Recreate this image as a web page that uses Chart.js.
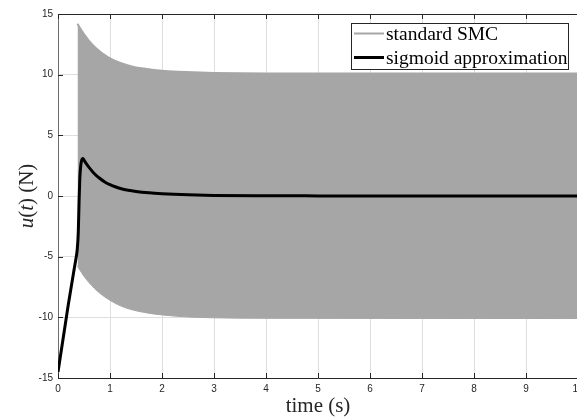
<!DOCTYPE html>
<html>
<head>
<meta charset="utf-8">
<script src="https://cdn.jsdelivr.net/npm/chart.js@4/dist/chart.umd.min.js"></script>
<style>
  html, body { margin: 0; padding: 0; background: #fff; overflow: hidden; }
  #wrap { width: 577px; height: 420px; overflow: hidden; position: relative; }
  canvas { display: block; }
</style>
</head>
<body>
<div id="wrap"><canvas id="c" width="590" height="420"></canvas></div>
<script>
// ---- data ----
const seriesLabels = ['sigmoid approximation', 'standard SMC'];

// sigmoid approximation (black line)
const tSig = [0, 0.05, 0.1, 0.15, 0.2, 0.25, 0.3, 0.34, 0.37, 0.39, 0.405, 0.42, 0.44, 0.46, 0.48,
              0.5, 0.55, 0.6, 0.7, 0.8, 0.9, 1.0, 1.1, 1.2, 1.35, 1.5, 1.75, 2.0, 2.5, 3.0, 4.0, 5.0, 10];
const uSig = [-14.5, -13.1, -11.7, -10.3, -8.9, -7.6, -6.3, -5.3, -4.4, -3.0, -0.5, 1.5, 2.6, 3.0, 3.1,
              2.96, 2.63, 2.34, 1.84, 1.46, 1.16, 0.93, 0.76, 0.62, 0.47, 0.37, 0.26, 0.19, 0.1, 0.05, 0.02, 0.01, 0];

// standard SMC (chattering band: upper and lower envelope)
const tSmc = [0.375, 0.45, 0.5, 0.6, 0.7, 0.8, 0.9, 1.0, 1.2, 1.4, 1.6, 1.8, 2.0, 2.3, 2.6, 3.0, 3.5, 4.0, 10];
const uSmcUpper = [14.2, 13.65, 13.34, 12.77, 12.31, 11.93, 11.61, 11.35, 10.96, 10.7, 10.52, 10.41, 10.33, 10.25, 10.19, 10.14, 10.11, 10.1, 10.1];
const uSmcLower = [-5.8, -6.3, -6.62, -7.16, -7.61, -8.0, -8.32, -8.6, -9.05, -9.35, -9.55, -9.7, -9.8, -9.92, -9.99, -10.04, -10.07, -10.08, -10.1];

// axis ticks
const xTicks = [0, 1, 2, 3, 4, 5, 6, 7, 8, 9, 10];
const yTicks = [-15, -10, -5, 0, 5, 10, 15];

const toPts = (xs, ys) => xs.map((x, i) => ({ x: x, y: ys[i] }));

const AXIS = '#262626';
const GRAY = '#a6a6a6';
const SERIF = '"Liberation Serif", "Times New Roman", serif';
const SANS = '"Liberation Sans", Arial, Helvetica, sans-serif';

const decorPlugin = {
  id: 'decor',
  afterDraw(chart) {
    const ctx = chart.ctx;
    const ca = chart.chartArea;
    const xs = chart.scales.x, ys = chart.scales.y;
    ctx.save();
    // top border
    ctx.strokeStyle = AXIS;
    ctx.lineWidth = 1;
    ctx.beginPath();
    ctx.moveTo(ca.left, ca.top + 0.5);
    ctx.lineTo(ca.right, ca.top + 0.5);
    ctx.moveTo(ca.right - 0.5, ca.top);
    ctx.lineTo(ca.right - 0.5, ca.bottom);
    ctx.stroke();
    // inward ticks
    const TL = 5;
    ctx.beginPath();
    xTicks.forEach(v => {
      const px = Math.round(xs.getPixelForValue(v)) + 0.5;
      ctx.moveTo(px, ca.bottom); ctx.lineTo(px, ca.bottom - TL);
      ctx.moveTo(px, ca.top); ctx.lineTo(px, ca.top + TL);
    });
    yTicks.forEach(v => {
      const py = Math.round(ys.getPixelForValue(v)) + 0.5;
      ctx.moveTo(ca.left, py); ctx.lineTo(ca.left + TL, py);
    });
    ctx.stroke();

    // y-axis title with italic symbols
    const parts = [
      { t: 'u', it: true }, { t: '(', it: false }, { t: 't', it: true }, { t: ') (N)', it: false }
    ];
    const fs = 21;
    let total = 0;
    parts.forEach(p => {
      ctx.font = (p.it ? 'italic ' : '') + fs + 'px ' + SERIF;
      p.w = ctx.measureText(p.t).width;
      total += p.w;
    });
    ctx.translate(27, (ca.top + ca.bottom) / 2);
    ctx.rotate(-Math.PI / 2);
    ctx.fillStyle = AXIS;
    ctx.textBaseline = 'middle';
    ctx.textAlign = 'left';
    let cx = -total / 2;
    parts.forEach(p => {
      ctx.font = (p.it ? 'italic ' : '') + fs + 'px ' + SERIF;
      ctx.fillText(p.t, cx, 0);
      cx += p.w;
    });
    ctx.setTransform(1, 0, 0, 1, 0, 0);

    // legend box
    const box = { x: 351.5, y: 23.5, w: 217, h: 46 };
    ctx.fillStyle = '#ffffff';
    ctx.fillRect(box.x, box.y, box.w, box.h);
    ctx.strokeStyle = AXIS;
    ctx.lineWidth = 1;
    ctx.strokeRect(box.x, box.y, box.w, box.h);
    const entries = [
      { ds: chart.data.datasets[1], y: 33.5 },
      { ds: chart.data.datasets[0], y: 57.5 }
    ];
    ctx.font = '19.5px ' + SERIF;
    ctx.textBaseline = 'middle';
    entries.forEach(e => {
      ctx.strokeStyle = e.ds.borderColor;
      ctx.lineWidth = e.ds.borderWidth;
      ctx.beginPath();
      ctx.moveTo(354, e.y);
      ctx.lineTo(384, e.y);
      ctx.stroke();
      ctx.fillStyle = '#000';
      ctx.fillText(e.ds.label, 386, e.y + 1);
    });
    ctx.restore();
  }
};

new Chart(document.getElementById('c'), {
  type: 'line',
  data: {
    datasets: [
      {
        label: seriesLabels[0],
        data: toPts(tSig, uSig),
        borderColor: '#000000',
        borderWidth: 3,
        pointRadius: 0,
        cubicInterpolationMode: 'monotone',
        fill: false,
        order: 0
      },
      {
        label: seriesLabels[1],
        data: toPts(tSmc, uSmcUpper),
        borderColor: GRAY,
        backgroundColor: GRAY,
        borderWidth: 2,
        pointRadius: 0,
        cubicInterpolationMode: 'monotone',
        fill: '+1',
        order: 1
      },
      {
        label: '',
        data: toPts(tSmc, uSmcLower),
        borderColor: GRAY,
        borderWidth: 1,
        pointRadius: 0,
        cubicInterpolationMode: 'monotone',
        fill: false,
        order: 2
      }
    ]
  },
  options: {
    responsive: false,
    animation: false,
    layout: { padding: { left: 0, top: 14, right: 12, bottom: 0 } },
    plugins: { legend: { display: false }, tooltip: { enabled: false } },
    scales: {
      x: {
        type: 'linear',
        min: 0, max: 10,
        afterBuildTicks: s => { s.ticks = xTicks.map(v => ({ value: v })); },
        afterFit: s => { s.height = 42; },
        grid: { color: '#dedede', drawTicks: false },
        border: { color: AXIS, width: 1 },
        ticks: { color: AXIS, font: { family: SANS, size: 10 }, padding: 5, maxRotation: 0, autoSkip: false },
        title: { display: true, text: 'time (s)', color: AXIS, font: { family: SERIF, size: 21 }, padding: { top: 0, bottom: 1 } }
      },
      y: {
        type: 'linear',
        min: -15, max: 15,
        afterBuildTicks: s => { s.ticks = yTicks.map(v => ({ value: v })); },
        afterFit: s => { s.width = 58; },
        grid: { color: '#dedede', drawTicks: false },
        border: { color: '#6e6e6e', width: 1 },
        ticks: { color: AXIS, font: { family: SANS, size: 10 }, padding: 5, autoSkip: false }
      }
    }
  },
  plugins: [decorPlugin]
});
</script>
</body>
</html>
